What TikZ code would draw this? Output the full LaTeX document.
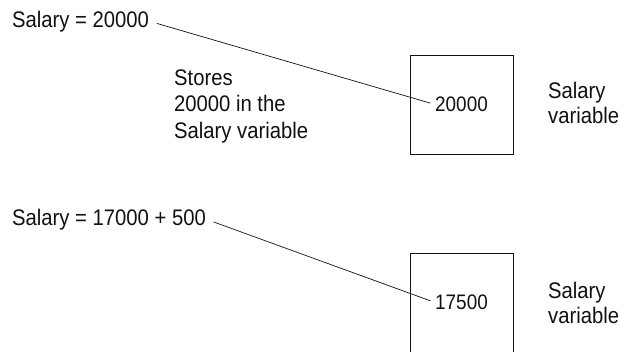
\documentclass[tikz,border=0pt]{standalone}
\usepackage{fontspec}
\setmainfont[FakeStretch=0.9]{Liberation Sans}
\usepackage{tikz}
\usetikzlibrary{positioning}
\definecolor{ink}{HTML}{111111}

\begin{document}
\begin{tikzpicture}[
    x=1pt, y=-1pt,
    code node/.style={inner sep=0pt, anchor=base west, text=ink, font=\fontsize{22.5}{26}\selectfont},
    note node/.style={inner sep=0pt, anchor=base west, align=left, text=ink, font=\fontsize{22.5}{26.5}\selectfont},
    side node/.style={inner sep=0pt, anchor=base west, align=left, text=ink, font=\fontsize{22.5}{25}\selectfont},
    var box/.style={rectangle, draw=ink, line width=0.8pt, minimum width=103pt, minimum height=99pt},
    val node/.style={inner sep=0pt, text=ink, font=\fontsize{21}{26}\selectfont},
    link/.style={draw=ink, line width=0.7pt, shorten <=8pt, shorten >=5pt}
  ]
  \path[use as bounding box, clip] (0,0) rectangle (626,351);

  % first assignment
  \node[code node] (code1) at (12,27) {Salary = 20000};
  \node[note node] (note1) at (174,138) {Stores\\20000 in the\\Salary variable};
  \node[var box] (box1) at (461.5,104.5) {};
  \node[val node] (val1) at (box1.center) {20000};
  \node[side node] (side1) at (548,123) {Salary\\variable};
  \draw[link] (code1.east) -- (val1.west);

  % second assignment
  \node[code node] (code2) at (12,225) {Salary = 17000 + 500};
  \node[var box] (box2) at (461.5,302.5) {};
  \node[val node] (val2) at (box2.center) {17500};
  \node[side node] (side2) at (548,323) {Salary\\variable};
  \draw[link] (code2.east) -- (val2.west);
\end{tikzpicture}
\end{document}
